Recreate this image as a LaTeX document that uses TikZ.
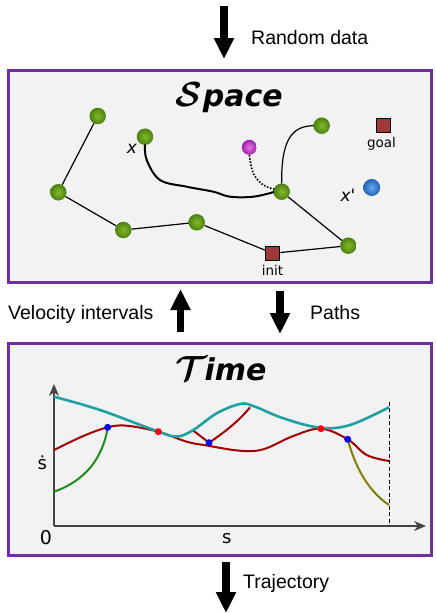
\documentclass[tikz,border=0pt]{standalone}
\usepackage{fontspec}
\usepackage{graphicx}
\setmainfont{Liberation Sans}
\newfontfamily\dv{DejaVu Sans}
\usetikzlibrary{arrows.meta}
\definecolor{boxpurple}{HTML}{7030A0}
\definecolor{boxfill}{HTML}{F2F2F2}
\definecolor{sqred}{HTML}{A03A3A}
\definecolor{cyanc}{HTML}{20A0A0}
\definecolor{darkred}{HTML}{A00000}
\definecolor{greenc}{HTML}{1E8C1E}
\definecolor{olivec}{HTML}{808000}
\definecolor{axisc}{HTML}{444444}
\definecolor{gin}{HTML}{86B82A}
\definecolor{gout}{HTML}{4A8210}
\definecolor{min}{HTML}{E878E8}
\definecolor{mout}{HTML}{A020A8}
\definecolor{bin}{HTML}{66AAEE}
\definecolor{bout}{HTML}{2262B8}
\begin{document}
\begin{tikzpicture}[x=1pt,y=-1pt,
  panel/.style={draw=boxpurple, line width=3pt, fill=boxfill, inner sep=0pt, minimum width=423pt, minimum height=212pt},
  bigarrow/.style={line width=7.5pt, -{Triangle[length=21pt,width=19pt]}},
  lbl/.style={font=\fontsize{19.5}{20}\selectfont, anchor=base west, inner sep=0pt},
  gball/.style={circle, inner sep=0pt, minimum size=16.5pt, shading=radial, inner color=gin, outer color=gout},
  sq/.style={draw=black, line width=1.3pt, fill=sqred, inner sep=0pt, minimum size=14pt},
  edge/.style={line width=1.2pt, black},
  small/.style={font=\dv\fontsize{13.5}{14}\selectfont, anchor=base, inner sep=0pt},
  title/.style={font=\dv\bfseries\itshape\fontsize{30}{30}\selectfont, anchor=base, inner sep=0pt},
  ax/.style={line width=2pt, axisc, -{Stealth[length=12pt,width=10pt]}},
  curve/.style={line width=2pt},
  rdot/.style={circle, fill=red, inner sep=0pt, minimum size=7pt},
  bdot/.style={circle, fill=blue, inner sep=0pt, minimum size=7pt}
]
\useasboundingbox (0,0) rectangle (436,613);

% panels
\node[panel] (space) at (219.5,176) {};
\node[panel] (time) at (219.5,449) {};

% big arrows
\coordinate (a1s) at (224,6);   \coordinate (a1e) at (224,59);
\coordinate (a2s) at (180.5,332); \coordinate (a2e) at (180.5,289);
\coordinate (a3s) at (280,291); \coordinate (a3e) at (280,334);
\coordinate (a4s) at (226,562); \coordinate (a4e) at (226,613);
\draw[bigarrow] (a1s) -- (a1e);
\draw[bigarrow] (a2s) -- (a2e);
\draw[bigarrow] (a3s) -- (a3e);
\draw[bigarrow] (a4s) -- (a4e);
\node[lbl] (lrand) at (251,44) {Random data};
\node[lbl] (lvel) at (8,319) {Velocity intervals};
\node[lbl] (lpath) at (310,319) {Paths};
\node[lbl] (ltraj) at (243,588) {Trajectory};

% titles
\node[title] (tspace) at (229,106.5) {\scalebox{1.4}{\boldmath$\mathcal{S}$}\hspace{1pt}pace};
\node[title] (ttime) at (221,380) {\scalebox{1.4}{\boldmath$\mathcal{T}$}\hspace{-2.5pt}ime};

% Space graph
\node[gball] (n1) at (97.7,116) {};
\node[gball] (n2) at (145,136.7) {};
\node[gball] (n3) at (58.3,192.3) {};
\node[gball] (n4) at (123.3,230) {};
\node[gball] (n5) at (196.7,222.3) {};
\node[gball] (n6) at (281.7,191.7) {};
\node[gball] (n7) at (321.7,125.7) {};
\node[gball] (n8) at (348.3,245.7) {};
\node[circle, inner sep=0pt, minimum size=15pt, shading=radial, inner color=min, outer color=mout] (mag) at (249.3,147.3) {};
\node[circle, inner sep=0pt, minimum size=17pt, shading=radial, inner color=bin, outer color=bout] (xp) at (371.7,187.5) {};
\node[sq] (init) at (272.7,253.3) {};
\node[sq] (goal) at (383.3,125.7) {};
\node[small] (tgoal) at (381.5,147.7) {goal};
\node[small] (tinit) at (272.5,275) {init};
\node[font=\dv\itshape\fontsize{17}{17}\selectfont, anchor=base, inner sep=0pt] (tx) at (132,153.3) {x};
\node[font=\dv\itshape\fontsize{17}{17}\selectfont, anchor=base, inner sep=0pt] (txp) at (348,201.7) {x'};

\draw[edge] (n1) -- (n3);
\draw[edge] (n3) -- (n4);
\draw[edge] (n4) -- (n5);
\draw[edge] (n5) -- (init);
\draw[edge] (init) -- (n8);
\draw[edge] (n8) -- (n6);
\draw[edge] (n6.north) .. controls (281,140) and (292,126) .. (n7.west);
\draw[line width=2pt] plot[smooth, tension=0.6] coordinates {(145,144.5) (146.7,160) (160,180) (186.7,186.7) (213.3,191.7) (230,196.7) (253.3,196.7) (274,192)};
\draw[line width=1.6pt, dash pattern=on 1.6pt off 1.6pt] plot[smooth, tension=0.6] coordinates {(249.3,155) (253.3,173.3) (263.3,185) (274,189)};

% Time chart
\coordinate (orig) at (54,526);
\coordinate (ytip) at (54,384);
\coordinate (xtip) at (426,526);
\draw[ax] (orig) -- (ytip);
\draw[ax] (orig) -- (xtip);
\coordinate (dtop) at (389,401.5);
\coordinate (dbot) at (389,526);
\draw[line width=1pt, dash pattern=on 4pt off 2.5pt] (dtop) -- (dbot);

\coordinate (pr1) at (158.3,431.7);
\coordinate (pr2) at (321,428.7);
\coordinate (pb1) at (107.7,427.3);
\coordinate (pb2) at (209,442.7);
\coordinate (pb3) at (347.7,439.3);

\draw[curve, darkred] plot[smooth, tension=0.6] coordinates {(54,450) (83.3,436) (107.7,427.3) (126.7,425.7) (158.3,431.7) (186.7,441.7) (206.7,445.5) (240,450.7) (263.3,449.3) (293.3,436) (321,428.7) (347.7,439.3) (366.7,455) (389,461)};
\draw[curve, darkred] plot[smooth, tension=0.5] coordinates {(193.3,430.7) (201,436.5) (209,442.7)};
\draw[curve, darkred] (pb2) .. controls (225,432) and (240,420) .. (250,407.3);
\draw[curve, line width=2.6pt, cyanc] plot[smooth, tension=0.6] coordinates {(54,396.7) (100,410) (156.7,431) (176.7,436.5) (193.3,430) (216.7,413.3) (240,404) (253.3,406) (283.3,418.3) (320,427.7) (350,425) (389,407.3)};
\draw[curve, greenc] (54,491.7) .. controls (85,481) and (103,458) .. (pb1);
\draw[curve, olivec] (pb3) .. controls (355,466) and (367,490) .. (389,505);

\node[rdot] (r1) at (pr1) {};
\node[rdot] (r2) at (pr2) {};
\node[bdot] (b1) at (pb1) {};
\node[bdot] (b2) at (pb2) {};
\node[bdot] (b3) at (pb3) {};

\node[font=\dv\fontsize{18}{18}\selectfont, anchor=base, inner sep=0pt] (tsd) at (42.3,469.3) {ṡ};
\node[font=\dv\fontsize{19}{19}\selectfont, anchor=base, inner sep=0pt] (t0) at (46,544) {0};
\node[font=\dv\fontsize{18}{18}\selectfont, anchor=base, inner sep=0pt] (ts) at (226.7,543.3) {s};
\end{tikzpicture}
\end{document}
